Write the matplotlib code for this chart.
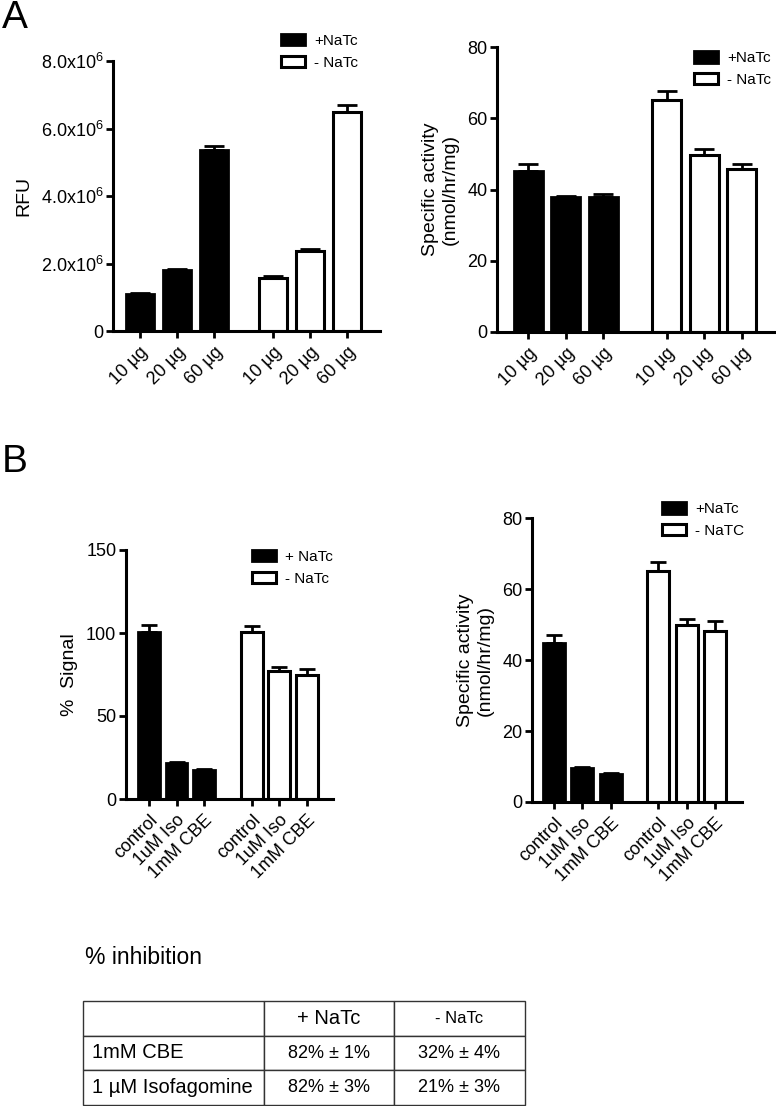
import matplotlib
matplotlib.use("Agg")
import matplotlib.pyplot as plt
from matplotlib.patches import Patch

plt.rcParams['font.family'] = ['Liberation Sans', 'DejaVu Sans']
plt.rcParams['mathtext.fontset'] = 'custom'
plt.rcParams['mathtext.rm'] = 'Liberation Sans'
plt.rcParams['mathtext.it'] = 'Liberation Sans'

# ---- data ----
amount_labels = ["10 \u00b5g", "20 \u00b5g", "60 \u00b5g"]
treat_labels = ["control", "1uM Iso", "1mM CBE"]

rfu_plus = [1.10e6, 1.81e6, 5.36e6]
rfu_plus_err = [0.04e6, 0.02e6, 0.13e6]
rfu_minus = [1.57e6, 2.37e6, 6.49e6]
rfu_minus_err = [0.06e6, 0.07e6, 0.20e6]

sa_plus = [45.2, 37.9, 38.0]
sa_plus_err = [2.0, 0.4, 0.8]
sa_minus = [65.1, 49.7, 45.8]
sa_minus_err = [2.5, 1.6, 1.4]

sig_plus = [100.6, 21.5, 17.5]
sig_plus_err = [4.2, 0.6, 0.6]
sig_minus = [100.6, 77.3, 74.5]
sig_minus_err = [3.5, 2.3, 4.0]

inh_plus = [44.9, 9.7, 7.8]
inh_plus_err = [2.1, 0.3, 0.4]
inh_minus = [65.1, 49.9, 48.2]
inh_minus_err = [2.6, 1.6, 2.9]

table_cols = ["", "+ NaTc", "- NaTc"]
table_rows = [["1mM CBE", "82% \u00b1 1%", "32% \u00b1 4%"],
              ["1 \u00b5M Isofagomine", "82% \u00b1 3%", "21% \u00b1 3%"]]

W, H = 776, 1106
fig = plt.figure(figsize=(W / 100, H / 100), dpi=100)


def px_axes(x0, x1, ytop, ybot):
    return fig.add_axes([x0 / W, 1 - ybot / H, (x1 - x0) / W, (ybot - ytop) / H])


def bar_panel(ax, plus, plus_err, minus, minus_err, labels, gap, xlim, width,
              ylim, yticks, ylabel, leg_labels, leg_pos, capsize):
    xp = [0, 1, 2]
    xm = [gap + i for i in range(3)]
    ax.bar(xp, plus, width=width, color='black', edgecolor='black', linewidth=2, zorder=2)
    ax.bar(xm, minus, width=width, color='white', edgecolor='black', linewidth=2.2, zorder=2)
    ax.errorbar(xp, plus, yerr=[[0] * 3, plus_err], fmt='none', ecolor='black',
                elinewidth=2, capsize=capsize, capthick=2, zorder=3)
    ax.errorbar(xm, minus, yerr=[[0] * 3, minus_err], fmt='none', ecolor='black',
                elinewidth=2, capsize=capsize, capthick=2, zorder=3)
    ax.set_xlim(*xlim)
    ax.set_ylim(*ylim)
    ax.set_yticks(yticks)
    ax.set_xticks(xp + xm)
    ax.set_xticklabels(labels + labels, rotation=45, ha='right', rotation_mode='anchor',
                       fontsize=12)
    for s in ['top', 'right']:
        ax.spines[s].set_visible(False)
    for s in ['left', 'bottom']:
        ax.spines[s].set_linewidth(2.2)
    ax.tick_params(axis='both', width=2, length=5, labelsize=13, pad=2)
    ax.tick_params(axis='x', pad=4)
    ax.set_ylabel(ylabel, fontsize=14, labelpad=6)
    handles = [Patch(facecolor='black', edgecolor='black', linewidth=2),
               Patch(facecolor='white', edgecolor='black', linewidth=2.2)]
    ax.legend(handles, leg_labels, loc='upper left', bbox_to_anchor=leg_pos,
              frameon=False, fontsize=11, handlelength=1.55, handleheight=0.75,
              handletextpad=0.6, labelspacing=0.5, borderpad=0, borderaxespad=0)


# A left
ax1 = px_axes(113, 380, 61, 331)
bar_panel(ax1, rfu_plus, rfu_plus_err, rfu_minus, rfu_minus_err, amount_labels,
          3.6, (-0.72, 6.48), 0.75, (0, 8e6), [0, 2e6, 4e6, 6e6, 8e6], "RFU",
          ["+NaTc", "- NaTc"], (0.63, 1.10), 7)
ax1.set_yticklabels(["0", r"2.0x10$^{6}$", r"4.0x10$^{6}$", r"6.0x10$^{6}$", r"8.0x10$^{6}$"])

# A right
ax2 = px_axes(497, 775, 47, 332)
bar_panel(ax2, sa_plus, sa_plus_err, sa_minus, sa_minus_err, amount_labels,
          3.68, (-0.83, 6.56), 0.77, (0, 80), [0, 20, 40, 60, 80],
          "Specific activity\n(nmol/hr/mg)", ["+NaTc", "- NaTc"], (0.71, 0.985), 7)

# B left
ax3 = px_axes(126, 333, 550, 799)
bar_panel(ax3, sig_plus, sig_plus_err, sig_minus, sig_minus_err, treat_labels,
          3.75, (-0.84, 6.7), 0.8, (0, 150), [0, 50, 100, 150], "%  Signal",
          ["+ NaTc", "- NaTc"], (0.61, 1.0), 6)

# B right
ax4 = px_axes(532, 742, 518, 802)
bar_panel(ax4, inh_plus, inh_plus_err, inh_minus, inh_minus_err, treat_labels,
          3.68, (-0.77, 6.63), 0.77, (0, 80), [0, 20, 40, 60, 80],
          "Specific activity\n(nmol/hr/mg)", ["+NaTc", "- NaTC"], (0.62, 1.055), 6)

# panel letters
fig.text(2 / W, 1 - 28 / H, "A", fontsize=28, va='baseline', ha='left')
fig.text(2 / W, 1 - 472 / H, "B", fontsize=28, va='baseline', ha='left')

# % inhibition table
fig.text(85 / W, 1 - 958 / H, "% inhibition", fontsize=16.5, va='center', ha='left')
tax = px_axes(83, 525, 1001, 1105)
tax.axis('off')
tbl = tax.table(cellText=[table_cols] + table_rows, bbox=[0, 0, 1, 1],
                colWidths=[181, 130, 131], cellLoc='center', edges='closed')
tbl.auto_set_font_size(False)
for (r, c), cell in tbl.get_celld().items():
    cell.set_edgecolor('#333333')
    cell.set_linewidth(1)
    cell.PAD = 0.05
    if c == 0:
        cell.get_text().set_ha('left')
        cell._loc = 'left'
        cell.get_text().set_fontsize(14.5)
    elif r == 0 and c == 1:
        cell.get_text().set_fontsize(14.5)
    elif r == 0 and c == 2:
        cell.get_text().set_fontsize(12)
    else:
        cell.get_text().set_fontsize(13)

fig.savefig("out.png", dpi=100)
